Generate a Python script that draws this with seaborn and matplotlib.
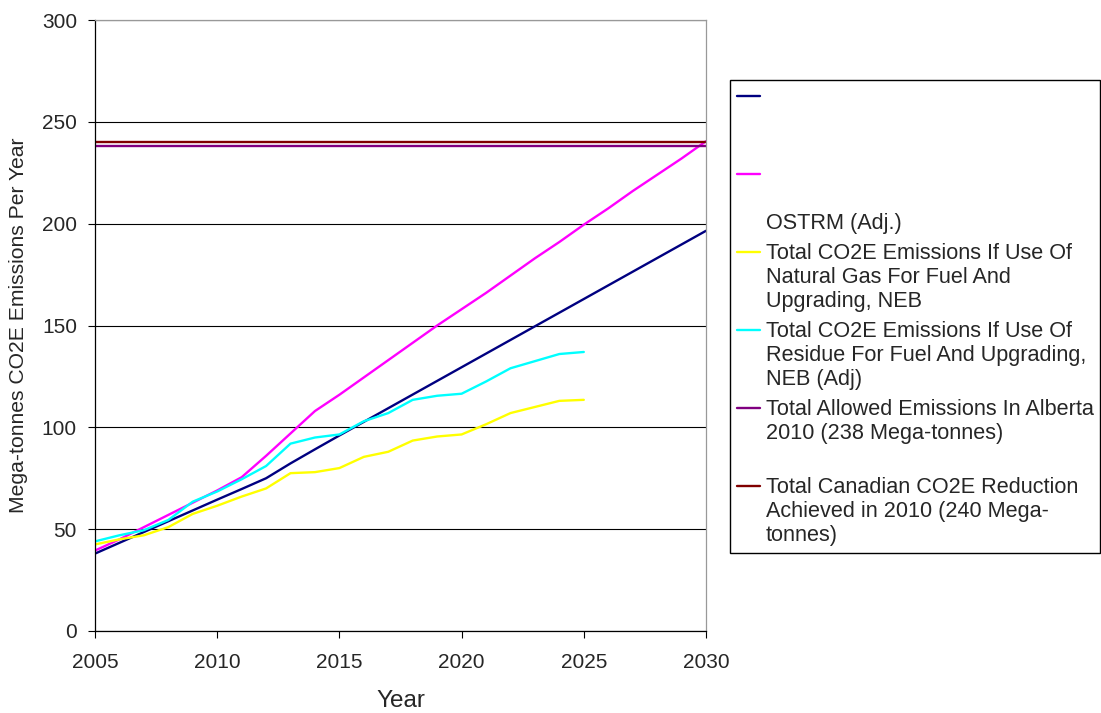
import matplotlib
matplotlib.use("Agg")
import matplotlib.pyplot as plt
from matplotlib.lines import Line2D
import seaborn as sns
import pandas as pd

# values (mega-tonnes CO2E per year)
years = list(range(2005, 2031))
years_neb = list(range(2005, 2026))

ostrm = [38.0, 43.3, 48.6, 53.9, 59.2, 64.5, 69.7, 75.0, 82.3, 89.2, 96.0,
         102.7, 109.4, 116.1, 122.8, 129.5, 136.2, 142.9, 149.6, 156.3, 163.0,
         169.7, 176.4, 183.1, 189.8, 196.5]
ostrm_adj = [39.5, 45.0, 51.0, 57.0, 63.0, 69.0, 75.5, 86.0, 97.0, 108.0, 116.0,
             124.5, 133.0, 141.5, 150.0, 158.0, 166.0, 174.5, 183.0, 191.0, 199.5,
             207.5, 216.0, 224.0, 232.0, 240.5]
neb_gas = [42.5, 45.0, 47.0, 51.0, 57.5, 61.5, 66.0, 70.0, 77.5, 78.0, 80.0,
           85.5, 88.0, 93.5, 95.5, 96.5, 101.5, 107.0, 110.0, 113.0, 113.5]
neb_residue = [44.0, 47.0, 49.5, 54.5, 63.5, 68.5, 74.5, 81.0, 92.0, 95.0, 96.5,
               103.0, 107.0, 113.5, 115.5, 116.5, 122.5, 129.0, 132.5, 136.0, 137.0]
alberta_allowed = [238] * len(years)
canada_reduction = [240] * len(years)

series_names = ["ostrm", "ostrm_adj", "neb_gas", "neb_residue", "alberta", "canada"]
colors = ["#000080", "#FF00FF", "#FFFF00", "#00FFFF", "#800080", "#800000"]
legend_labels = [
    " \n \n ",
    " \n \nOSTRM (Adj.)",
    "Total CO2E Emissions If Use Of\nNatural Gas For Fuel And\nUpgrading, NEB",
    "Total CO2E Emissions If Use Of\nResidue For Fuel And Upgrading,\nNEB (Adj)",
    "Total Allowed Emissions In Alberta\n2010 (238 Mega-tonnes)\n ",
    "Total Canadian CO2E Reduction\nAchieved in 2010 (240 Mega-\ntonnes)",
]

frames = []
for name, xs, ys in zip(series_names,
                        [years, years, years_neb, years_neb, years, years],
                        [ostrm, ostrm_adj, neb_gas, neb_residue, alberta_allowed, canada_reduction]):
    frames.append(pd.DataFrame({"Year": xs, "Mt": ys, "Series": name}))
df = pd.concat(frames, ignore_index=True)

sns.set_style("white")
plt.rcParams["font.family"] = ["Liberation Sans", "DejaVu Sans"]

fig = plt.figure(figsize=(11.01, 7.13), dpi=100)
ax = fig.add_axes([95 / 1101, 1 - 631 / 713, 611 / 1101, 611 / 713])

sns.lineplot(data=df, x="Year", y="Mt", hue="Series", hue_order=series_names,
             palette=colors, estimator=None, linewidth=1.7, legend=False, ax=ax)

ax.set_xlim(2005, 2030)
ax.set_ylim(0, 300)
ax.set_xticks(range(2005, 2031, 5))
ax.set_yticks(range(0, 301, 50))
ax.yaxis.grid(True, color="black", linewidth=0.8)
ax.set_axisbelow(True)
ax.tick_params(axis="both", direction="out", length=5, width=0.8, color="black",
               labelsize=15, left=True, bottom=True)
ax.tick_params(axis="x", pad=11)
ax.tick_params(axis="y", pad=8)
for side in ["left", "bottom"]:
    ax.spines[side].set_color("black")
    ax.spines[side].set_linewidth(0.9)
for side in ["top", "right"]:
    ax.spines[side].set_color("#999999")
    ax.spines[side].set_linewidth(0.9)

ax.set_xlabel("Year", fontsize=17.5, labelpad=13)
ax.set_ylabel("Mega-tonnes CO2E Emissions Per Year", fontsize=15.2, labelpad=10)

handles = [Line2D([], [], color=c, linewidth=1.7) for c in colors]
leg = fig.legend(handles, legend_labels, loc="upper left",
                 bbox_to_anchor=(730 / 1101, 1 - 80 / 713), fontsize=15.6,
                 frameon=True, fancybox=False, framealpha=1, edgecolor="black",
                 borderpad=0.3, handlelength=1.1, handleheight=1.2,
                 handletextpad=0.25, labelspacing=0.4, borderaxespad=0)
leg.get_frame().set_linewidth(1.0)
for t in leg.get_texts():
    t.set_linespacing(1.2)
# put each legend line next to the first line of its label, like Excel does
try:
    for col in leg._legend_handle_box.get_children():
        for row in col.get_children():
            row.align = "top"
except AttributeError:
    pass

fig.savefig("out.png", dpi=100)
